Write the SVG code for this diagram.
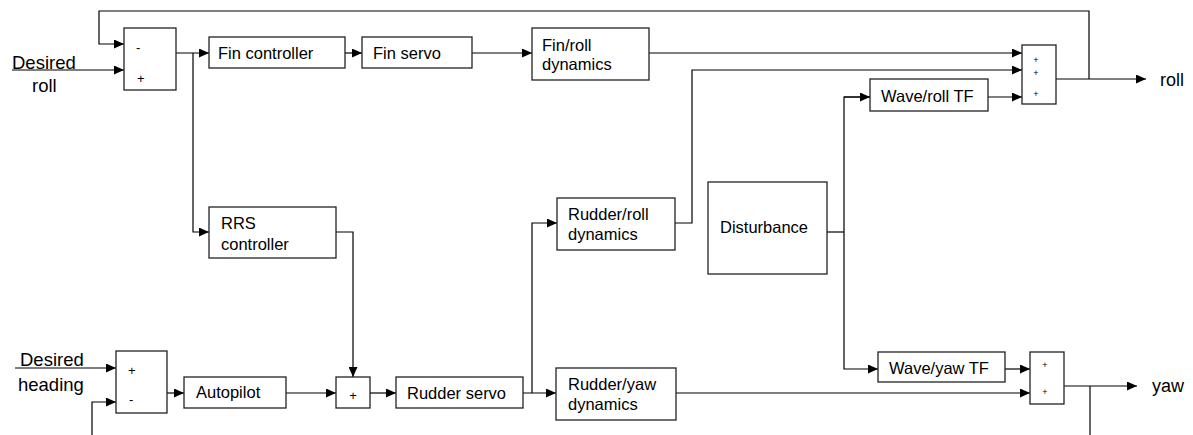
<svg xmlns="http://www.w3.org/2000/svg" width="1193" height="435" viewBox="0 0 1193 435">
<defs>
<marker id="ah" markerUnits="userSpaceOnUse" markerWidth="11" markerHeight="9" refX="10" refY="4.5" orient="auto">
<path d="M0,0 L10,4.5 L0,9 z" fill="#000"/>
</marker>
<style>
.b{fill:#fff;stroke:#222;stroke-width:1.3}
.c{fill:none;stroke:#000;stroke-width:1.2}
.a{marker-end:url(#ah)}
.t{font-family:"Liberation Sans",Arial,sans-serif;font-size:16.5px;fill:#000}
.L{font-family:"Liberation Sans",Arial,sans-serif;font-size:18.5px;fill:#000}
.s{font-family:"Liberation Sans",Arial,sans-serif;font-size:13px;fill:#000}
.p{font-family:"Liberation Sans",Arial,sans-serif;font-size:9px;fill:#000;text-anchor:middle}
</style>
</defs>
<rect width="1193" height="435" fill="#fff"/>
<g id="connectors">
<path class="c a" d="M12,70 H124"/>
<path class="c a" d="M1089,79 V11 H99 V44 H124"/>
<path class="c a" d="M176,53 H209"/>
<path class="c a" d="M193,53 V232 H209"/>
<path class="c a" d="M345,53 H362"/>
<path class="c a" d="M472,53 H532"/>
<path class="c a" d="M649,53 H1022"/>
<path class="c a" d="M675,223 H692 V70 H1022"/>
<path class="c a" d="M988,97 H1022"/>
<path class="c" d="M827,232 H844"/>
<path class="c a" d="M870,97 H844 V369 H878"/>
<path class="c a" d="M844,97 H870"/>
<path class="c a" d="M1005,369 H1030"/>
<path class="c a" d="M676,393 H1030"/>
<path class="c a" d="M1056,79 H1146"/>
<path class="c a" d="M1064,386 H1137"/>
<path class="c" d="M1090,386 V435"/>
<path class="c a" d="M15,368 H116"/>
<path class="c a" d="M92,435 V402 H116"/>
<path class="c a" d="M167,393 H184"/>
<path class="c a" d="M286,393 H336"/>
<path class="c a" d="M336,232 H353 V377"/>
<path class="c a" d="M370,393 H396"/>
<path class="c a" d="M523,393 H556"/>
<path class="c a" d="M532,393 V223 H557"/>
</g>
<g id="labels">
<text class="L" x="12" y="69">Desired</text>
<text class="L" x="32" y="92">roll</text>
<text class="L" x="20" y="366">Desired</text>
<text class="L" x="18" y="391">heading</text>
<text class="L" x="1160" y="86" style="font-size:18px">roll</text>
<text class="L" x="1152" y="392" style="font-size:18px">yaw</text>
</g>
<g id="sum1">
<rect class="b" x="124" y="28" width="52" height="62"/>
<text class="s" x="136" y="52">-</text>
<text class="s" x="137" y="83">+</text>
</g>
<g id="fin-controller">
<rect class="b" x="209" y="37" width="136" height="31"/>
<text class="t" x="218" y="59">Fin controller</text>
</g>
<g id="fin-servo">
<rect class="b" x="362" y="37" width="110" height="31"/>
<text class="t" x="373" y="59">Fin servo</text>
</g>
<g id="fin-roll-dynamics">
<rect class="b" x="532" y="28" width="117" height="52"/>
<text class="t" x="542" y="51">Fin/roll</text>
<text class="t" x="542" y="70">dynamics</text>
</g>
<g id="sum-roll">
<rect class="b" x="1022" y="45" width="34" height="59"/>
<text class="p" x="1036" y="63">+</text>
<text class="p" x="1036" y="76">+</text>
<text class="p" x="1036" y="97">+</text>
</g>
<g id="wave-roll-tf">
<rect class="b" x="870" y="79" width="118" height="32"/>
<text class="t" x="881" y="102">Wave/roll TF</text>
</g>
<g id="rrs-controller">
<rect class="b" x="209" y="207" width="127" height="51"/>
<text class="t" x="221" y="229">RRS</text>
<text class="t" x="221" y="250">controller</text>
</g>
<g id="rudder-roll-dynamics">
<rect class="b" x="557" y="198" width="118" height="52"/>
<text class="t" x="568" y="220">Rudder/roll</text>
<text class="t" x="568" y="240">dynamics</text>
</g>
<g id="disturbance">
<rect class="b" x="708" y="182" width="119" height="92"/>
<text class="t" x="720" y="233">Disturbance</text>
</g>
<g id="wave-yaw-tf">
<rect class="b" x="878" y="352" width="127" height="30"/>
<text class="t" x="889" y="374">Wave/yaw TF</text>
</g>
<g id="sum-yaw">
<rect class="b" x="1030" y="352" width="34" height="52"/>
<text class="p" x="1045" y="368">+</text>
<text class="p" x="1045" y="395">+</text>
</g>
<g id="sum2">
<rect class="b" x="116" y="351" width="51" height="62"/>
<text class="s" x="128" y="375">+</text>
<text class="s" x="129" y="404">-</text>
</g>
<g id="autopilot">
<rect class="b" x="184" y="377" width="102" height="31"/>
<text class="t" x="196" y="398">Autopilot</text>
</g>
<g id="sum3">
<rect class="b" x="336" y="377" width="34" height="31"/>
<text class="s" x="353" y="400" text-anchor="middle">+</text>
</g>
<g id="rudder-servo">
<rect class="b" x="396" y="377" width="127" height="31"/>
<text class="t" x="407" y="399">Rudder servo</text>
</g>
<g id="rudder-yaw-dynamics">
<rect class="b" x="556" y="368" width="120" height="52"/>
<text class="t" x="568" y="390">Rudder/yaw</text>
<text class="t" x="568" y="410">dynamics</text>
</g>
</svg>
